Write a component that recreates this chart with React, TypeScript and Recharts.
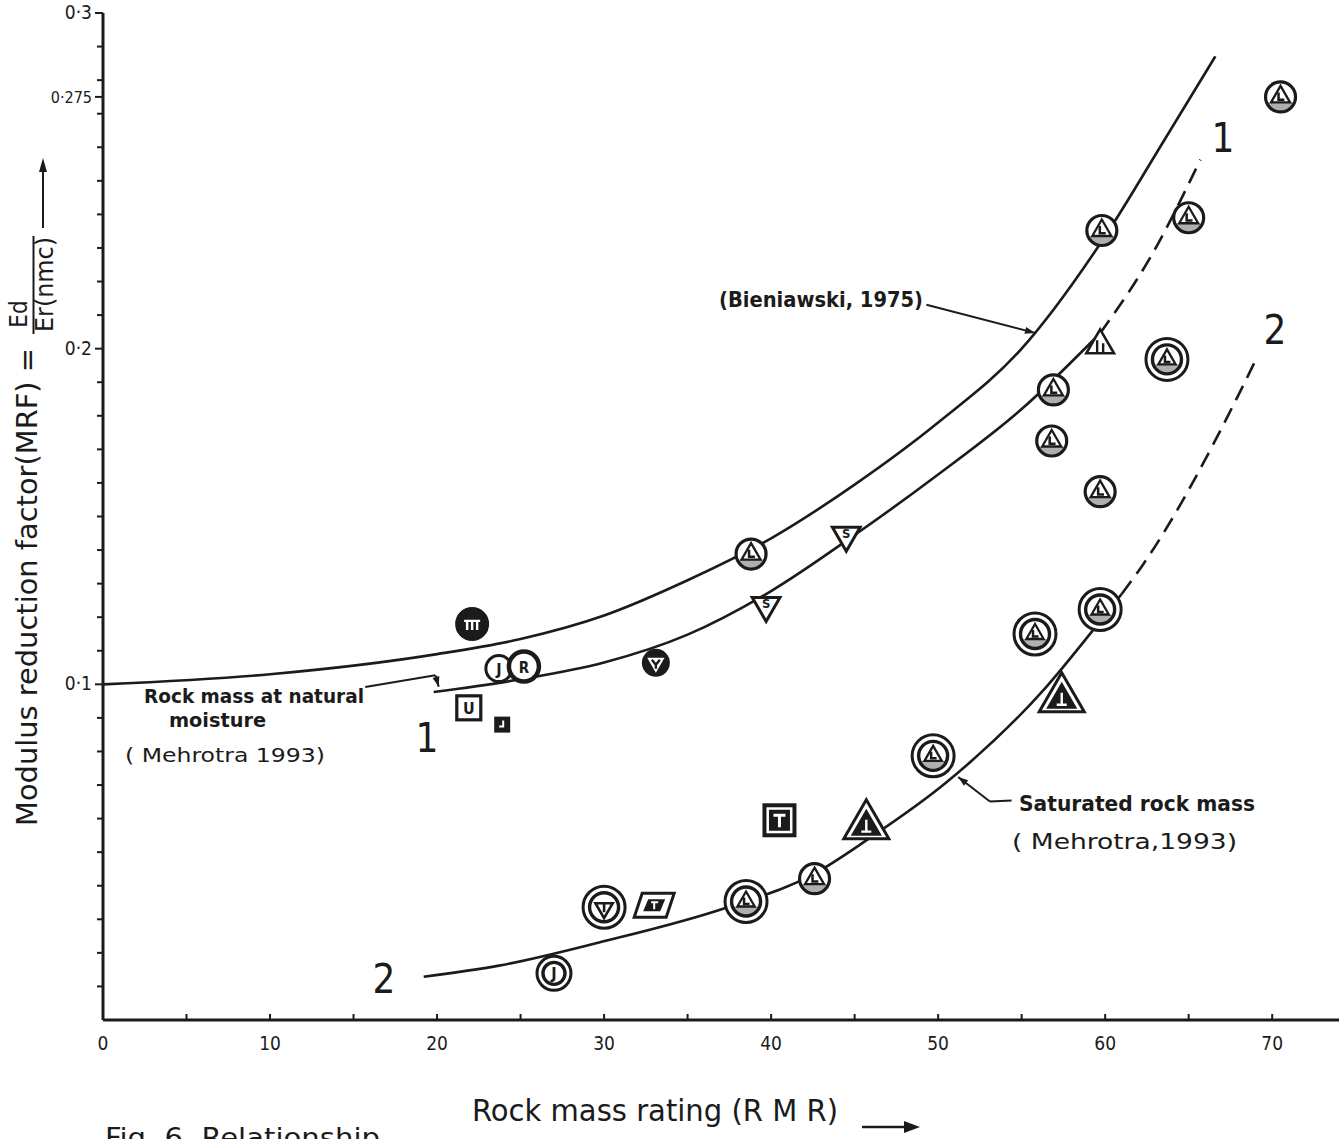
// App.tsx - modulus reduction factor (MRF) against rock mass rating (RMR)
import { ComposedChart, Line, Scatter, XAxis, YAxis, ReferenceLine } from 'recharts';

const INK = '#1b1b1b';
const FONT = "'DejaVu Sans Condensed', 'DejaVu Sans', sans-serif";

// axis ticks
const xTicks = [0, 5, 10, 15, 20, 25, 30, 35, 40, 45, 50, 55, 60, 65, 70];
const xLabelled = [0, 10, 20, 30, 40, 50, 60, 70];
const yLabelled = [0.1, 0.2, 0.275, 0.3];
const yTickLabels = ['0·1', '0·2', '0·275', '0·3'];
const yMinorTicks = Array.from({ length: 29 }, (_, i) => Number(((i + 1) * 0.01).toFixed(2)));

// Bieniawski (1975) curve
const bieniawskiCurve = [
  { x: 0, y: 0.1 }, { x: 10, y: 0.103 }, { x: 20, y: 0.109 }, { x: 25, y: 0.1135 },
  { x: 30, y: 0.1205 }, { x: 35, y: 0.131 }, { x: 40, y: 0.1435 }, { x: 45, y: 0.1595 },
  { x: 50, y: 0.178 }, { x: 55, y: 0.2 }, { x: 60, y: 0.2335 }, { x: 63.5, y: 0.2618 },
  { x: 66.6, y: 0.2871 },
];

// curve 1: rock mass at natural moisture (Mehrotra 1993)
const naturalCurve = [
  { x: 19.8, y: 0.0977 }, { x: 25, y: 0.1015 }, { x: 30, y: 0.1065 }, { x: 35, y: 0.1148 },
  { x: 40, y: 0.1278 }, { x: 45, y: 0.1445 }, { x: 50, y: 0.1625 }, { x: 55, y: 0.182 },
  { x: 59.7, y: 0.2046 },
];
const naturalCurveExt = [{ x: 59.7, y: 0.2046 }, { x: 62.8, y: 0.228 }, { x: 65.7, y: 0.2563 }];

// curve 2: saturated rock mass (Mehrotra, 1993)
const saturatedCurve = [
  { x: 19.2, y: 0.0129 }, { x: 23.7, y: 0.0162 }, { x: 29.7, y: 0.0231 }, { x: 37.4, y: 0.0336 },
  { x: 42.6, y: 0.0436 }, { x: 45.7, y: 0.0535 }, { x: 50.5, y: 0.0708 }, { x: 56.4, y: 0.0988 },
  { x: 59.3, y: 0.1163 }, { x: 61.0, y: 0.127 },
];
const saturatedCurveExt = [{ x: 61.0, y: 0.127 }, { x: 62.2, y: 0.1352 }, { x: 68.0, y: 0.1864 }, { x: 69.0, y: 0.1965 }];

// observed points, natural moisture
const naturalRingTri = [
  { x: 38.8, y: 0.1388 }, { x: 56.9, y: 0.1877 }, { x: 56.8, y: 0.1725 }, { x: 59.8, y: 0.2352 },
  { x: 65.0, y: 0.239 }, { x: 59.7, y: 0.1574 }, { x: 70.5, y: 0.275 },
];
const naturalDiscs = [
  { x: 22.1, y: 0.118, code: 'm' }, { x: 23.7, y: 0.1047, code: 'J' },
  { x: 25.2, y: 0.1053, code: 'K' }, { x: 33.1, y: 0.1064, code: 'V' },
];
const naturalSquares = [{ x: 21.9, y: 0.093, code: 'U' }, { x: 23.9, y: 0.088, code: 'j' }];
const naturalInvTri = [{ x: 39.7, y: 0.1235 }, { x: 44.5, y: 0.1444 }];
const naturalTri = [{ x: 59.7, y: 0.201 }];
const naturalDoubleRing = [{ x: 63.7, y: 0.1968, code: 'A' }];

// observed points, saturated
const saturatedDoubleRing = [
  { x: 55.8, y: 0.115, code: 'A' }, { x: 59.7, y: 0.1223, code: 'A' }, { x: 49.7, y: 0.0787, code: 'A' },
  { x: 38.5, y: 0.0353, code: 'A' }, { x: 30.0, y: 0.0336, code: 'V' }, { x: 27.0, y: 0.0139, code: 'J' },
];
const saturatedTri = [{ x: 57.4, y: 0.0957 }, { x: 45.7, y: 0.0579 }];
const saturatedSquares = [{ x: 40.5, y: 0.0595, code: 'T' }];
const saturatedRingTri = [{ x: 42.6, y: 0.0421 }];
const saturatedRhomb = [{ x: 33.0, y: 0.0342 }];

// leader lines for the curve notes
const bieniawskiLeader = [{ x: 49.3, y: 0.2131 }, { x: 55.8, y: 0.2047 }];
const naturalLeader = [{ x: 15.7, y: 0.0992 }, { x: 19.9, y: 0.1027 }, { x: 20.1, y: 0.0993 }];
const saturatedLeader = [{ x: 54.4, y: 0.0654 }, { x: 53.1, y: 0.0651 }, { x: 51.2, y: 0.0724 }];

const tri = (cx: number, cy: number, r: number) =>
  `M${cx},${cy - r} L${cx + 0.866 * r},${cy + 0.5 * r} L${cx - 0.866 * r},${cy + 0.5 * r} Z`;
const invTri = (cx: number, cy: number, r: number) =>
  `M${cx},${cy + r} L${cx + 0.866 * r},${cy - 0.5 * r} L${cx - 0.866 * r},${cy - 0.5 * r} Z`;

// triangle with an L stroke and a shaded lower segment, drawn inside a ring
const TriInside = ({ cx, cy, r }: { cx: number; cy: number; r: number }) => {
  const base = cy + 0.5 * r;
  const half = Math.sqrt(Math.max((r + 3) * (r + 3) - 0.25 * r * r, 0));
  return (
    <g>
      <path d={`M${cx - half},${base} A${r + 3},${r + 3} 0 0 0 ${cx + half},${base} Z`} fill={INK} opacity={0.35} />
      <path d={tri(cx, cy, r)} fill="none" stroke={INK} strokeWidth={2.3} />
      <path d={`M${cx - 2},${cy - r * 0.4} V${cy + r * 0.25} H${cx + r * 0.35}`} fill="none" stroke={INK} strokeWidth={2.5} />
    </g>
  );
};

const ringTriangle = (p: any) => {
  const { cx, cy } = p;
  return (
    <g>
      <circle cx={cx} cy={cy} r={15} fill="#fff" stroke={INK} strokeWidth={3.2} />
      <TriInside cx={cx} cy={cy} r={11} />
    </g>
  );
};

const doubleRing = (p: any) => {
  const { cx, cy, payload } = p;
  const small = payload.code === 'J';
  const R = small ? 17 : 21;
  const r = small ? 11 : 14.5;
  return (
    <g>
      <circle cx={cx} cy={cy} r={R} fill="#fff" stroke={INK} strokeWidth={3} />
      <circle cx={cx} cy={cy} r={r} fill="#fff" stroke={INK} strokeWidth={3.4} />
      {payload.code === 'A' && <TriInside cx={cx} cy={cy} r={10} />}
      {payload.code === 'V' && (
        <g>
          <path d={invTri(cx, cy + 1, 10)} fill="none" stroke={INK} strokeWidth={2.6} />
          <path d={`M${cx},${cy - 4} V${cy + 5}`} stroke={INK} strokeWidth={2.6} />
        </g>
      )}
      {payload.code === 'J' && (
        <text x={cx} y={cy + 6} textAnchor="middle" fontSize={16} fontWeight="bold" fontFamily={FONT} fill={INK}>J</text>
      )}
    </g>
  );
};

const disc = (p: any) => {
  const { cx, cy, payload } = p;
  const code = payload.code;
  if (code === 'm') {
    return (
      <g>
        <circle cx={cx} cy={cy} r={16} fill={INK} stroke={INK} strokeWidth={2} />
        <path d={`M${cx - 8},${cy - 3} H${cx + 8} M${cx - 5},${cy - 3} V${cy + 6} M${cx},${cy - 3} V${cy + 6} M${cx + 5},${cy - 3} V${cy + 6}`} stroke="#fff" strokeWidth={2.4} fill="none" />
      </g>
    );
  }
  if (code === 'V') {
    return (
      <g>
        <circle cx={cx} cy={cy} r={14} fill={INK} />
        <path d={invTri(cx, cy, 10)} fill="#fff" />
        <path d={`M${cx - 4},${cy - 3} L${cx},${cy + 2} L${cx + 4},${cy - 3} M${cx},${cy + 2} V${cy + 6}`} stroke={INK} strokeWidth={2.4} fill="none" />
      </g>
    );
  }
  return (
    <g>
      <circle cx={cx} cy={cy} r={code === 'K' ? 15 : 13} fill="#fff" stroke={INK} strokeWidth={code === 'K' ? 4.5 : 3} />
      <text x={cx} y={cy + 6} textAnchor="middle" fontSize={code === 'K' ? 15 : 16} fontWeight="bold" fontFamily={FONT} fill={INK}>
        {code === 'K' ? 'R' : code}
      </text>
    </g>
  );
};

const square = (p: any) => {
  const { cx, cy, payload } = p;
  if (payload.code === 'T') {
    return (
      <g>
        <rect x={cx - 17} y={cy - 17} width={34} height={34} fill={INK} />
        <rect x={cx - 13} y={cy - 13} width={26} height={26} fill="#fff" />
        <rect x={cx - 10.5} y={cy - 10.5} width={21} height={21} fill={INK} />
        <path d={`M${cx - 6},${cy - 5} H${cx + 6} M${cx},${cy - 5} V${cy + 7}`} stroke="#fff" strokeWidth={3} />
      </g>
    );
  }
  if (payload.code === 'j') {
    return (
      <g>
        <rect x={cx - 8} y={cy - 8} width={16} height={16} fill={INK} />
        <path d={`M${cx + 1},${cy - 4} V${cy + 2} H${cx - 3}`} stroke="#fff" strokeWidth={2} fill="none" />
      </g>
    );
  }
  return (
    <g>
      <rect x={cx - 12} y={cy - 12} width={24} height={24} fill="#fff" stroke={INK} strokeWidth={3.2} />
      <text x={cx} y={cy + 6} textAnchor="middle" fontSize={16} fontWeight="bold" fontFamily={FONT} fill={INK}>U</text>
    </g>
  );
};

const smallTriangle = (p: any) => {
  const { cx, cy } = p;
  return (
    <g>
      <path d={tri(cx, cy, 16)} fill="#fff" stroke={INK} strokeWidth={2.6} />
      <path d={`M${cx - 3},${cy - 5} V${cy + 8} M${cx + 3},${cy - 2} V${cy + 8}`} stroke={INK} strokeWidth={2.4} />
    </g>
  );
};

const bigTriangle = (p: any) => {
  const { cx, cy } = p;
  return (
    <g>
      <path d={tri(cx, cy, 26)} fill="#fff" stroke={INK} strokeWidth={3} />
      <path d={tri(cx, cy + 1, 18)} fill={INK} />
      <path d={`M${cx},${cy - 6} V${cy + 6} M${cx - 5},${cy + 6} H${cx + 5}`} stroke="#fff" strokeWidth={2.4} />
    </g>
  );
};

const invTriangle = (p: any) => {
  const { cx, cy } = p;
  return (
    <g>
      <path d={invTri(cx, cy, 16)} fill="#fff" stroke={INK} strokeWidth={3} />
      <text x={cx} y={cy + 3} textAnchor="middle" fontSize={13} fontWeight="bold" fontFamily={FONT} fill={INK}>S</text>
    </g>
  );
};

const rhomb = (p: any) => {
  const { cx, cy } = p;
  return (
    <g>
      <path d={`M${cx - 12},${cy - 12} H${cx + 20} L${cx + 12},${cy + 12} H${cx - 20} Z`} fill="#fff" stroke={INK} strokeWidth={3} />
      <path d={`M${cx - 6},${cy - 6} H${cx + 11} L${cx + 6},${cy + 6} H${cx - 11} Z`} fill={INK} />
      <path d={`M${cx - 3},${cy - 3} H${cx + 4} M${cx},${cy - 3} V${cy + 4}`} stroke="#fff" strokeWidth={2} />
    </g>
  );
};

const arrowLine = (p: any) => {
  const { x1, y1, x2, y2 } = p;
  const a = Math.atan2(y2 - y1, x2 - x1);
  const bx = x2 - 10 * Math.cos(a);
  const by = y2 - 10 * Math.sin(a);
  const nx = -Math.sin(a) * 3.5;
  const ny = Math.cos(a) * 3.5;
  return (
    <g>
      <line x1={x1} y1={y1} x2={x2} y2={y2} stroke={INK} strokeWidth={2} />
      <path d={`M${x2},${y2} L${bx + nx},${by + ny} L${bx - nx},${by - ny} Z`} fill={INK} />
    </g>
  );
};

const XTick = (p: any) => {
  const { x, y, payload } = p;
  const v = payload.value;
  return (
    <g>
      {v > 0 && <line x1={x} y1={y} x2={x} y2={y - 6} stroke={INK} strokeWidth={2} />}
      {xLabelled.includes(v) && (
        <text x={x} y={y + 30} textAnchor="middle" fontSize={19} fontFamily={FONT} fill={INK}>{v}</text>
      )}
    </g>
  );
};

const YTick = (p: any) => {
  const { x, y, payload } = p;
  const i = yLabelled.findIndex((t) => Math.abs(t - payload.value) < 1e-6);
  return (
    <g>
      <line x1={x - (i >= 0 ? 8 : 6)} y1={y} x2={x} y2={y} stroke={INK} strokeWidth={2} />
      {i >= 0 && (
        <text x={x - 11} y={y + 6} textAnchor="end" fontSize={i === 2 ? 16 : 19} fontFamily={FONT} fill={INK}>
          {yTickLabels[i]}
        </text>
      )}
    </g>
  );
};

const Note = ({ x, y, w, size, bold, children }: any) => (
  <text x={x} y={y} fontSize={size} fontWeight={bold ? 'bold' : 'normal'} fontFamily={FONT} fill={INK}
    textLength={w} lengthAdjust="spacingAndGlyphs">{children}</text>
);

export default function App() {
  const curve = { type: 'monotone' as const, dataKey: 'y', dot: false, stroke: INK, strokeWidth: 2.6, isAnimationActive: false, activeDot: false };
  return (
    <div style={{ position: 'absolute', left: 0, top: 0, width: 1342, height: 1139, background: '#fff', overflow: 'hidden' }}>
      <ComposedChart width={1342} height={1139} margin={{ top: 13, right: 3, bottom: 79, left: 63 }}>
        <XAxis dataKey="x" type="number" domain={[0, 74]} ticks={xTicks} interval={0} height={40}
          tickSize={0} tickMargin={0} tick={XTick} axisLine={{ stroke: INK, strokeWidth: 3 }} />
        <YAxis dataKey="y" type="number" domain={[0, 0.3]} ticks={[...yMinorTicks, 0.275, 0.3]} interval={0} width={40}
          tickSize={0} tickMargin={0} tick={YTick} axisLine={{ stroke: INK, strokeWidth: 3 }} />

        <ReferenceLine segment={bieniawskiLeader} shape={arrowLine} />
        <ReferenceLine segment={[naturalLeader[0], naturalLeader[1]]} stroke={INK} strokeWidth={2} />
        <ReferenceLine segment={[naturalLeader[1], naturalLeader[2]]} shape={arrowLine} />
        <ReferenceLine segment={[saturatedLeader[0], saturatedLeader[1]]} stroke={INK} strokeWidth={2} />
        <ReferenceLine segment={[saturatedLeader[1], saturatedLeader[2]]} shape={arrowLine} />

        <Line data={bieniawskiCurve} {...curve} />
        <Line data={naturalCurve} {...curve} />
        <Line data={naturalCurveExt} {...curve} strokeDasharray="16 9" />
        <Line data={saturatedCurve} {...curve} />
        <Line data={saturatedCurveExt} {...curve} strokeDasharray="16 9" />

        <Scatter data={naturalRingTri} shape={ringTriangle} isAnimationActive={false} />
        <Scatter data={naturalDiscs} shape={disc} isAnimationActive={false} />
        <Scatter data={naturalSquares} shape={square} isAnimationActive={false} />
        <Scatter data={naturalInvTri} shape={invTriangle} isAnimationActive={false} />
        <Scatter data={naturalTri} shape={smallTriangle} isAnimationActive={false} />
        <Scatter data={naturalDoubleRing} shape={doubleRing} isAnimationActive={false} />
        <Scatter data={saturatedDoubleRing} shape={doubleRing} isAnimationActive={false} />
        <Scatter data={saturatedTri} shape={bigTriangle} isAnimationActive={false} />
        <Scatter data={saturatedSquares} shape={square} isAnimationActive={false} />
        <Scatter data={saturatedRingTri} shape={ringTriangle} isAnimationActive={false} />
        <Scatter data={saturatedRhomb} shape={rhomb} isAnimationActive={false} />
      </ComposedChart>

      <svg width={1342} height={1139} style={{ position: 'absolute', left: 0, top: 0, pointerEvents: 'none' }}>
        {/* y axis title with the Ed / Er(nmc) fraction */}
        <text transform="rotate(-90 37 826)" x={37} y={826} fontSize={28} fontFamily={FONT} fill={INK}
          textLength={478} lengthAdjust="spacingAndGlyphs">Modulus reduction factor(MRF) =</text>
        <text transform="rotate(-90 27 314)" x={27} y={314} textAnchor="middle" fontSize={24} fontFamily={FONT} fill={INK}>Ed</text>
        <line x1={33.5} y1={236} x2={33.5} y2={334} stroke={INK} strokeWidth={2} />
        <text transform="rotate(-90 53 237)" x={53} y={237} textAnchor="end" fontSize={24} fontFamily={FONT} fill={INK}
          textLength={95} lengthAdjust="spacingAndGlyphs">Er(nmc)</text>
        <line x1={43} y1={228} x2={43} y2={168} stroke={INK} strokeWidth={2} />
        <path d="M43,158 L39,172 L47,172 Z" fill={INK} />

        {/* x axis title */}
        <Note x={472} y={1121} w={366} size={30}>Rock  mass rating (R M R)</Note>
        <line x1={862} y1={1127} x2={908} y2={1127} stroke={INK} strokeWidth={2.4} />
        <path d="M920,1127 L904,1121 L904,1133 Z" fill={INK} />

        {/* curve notes */}
        <Note x={719} y={307} w={204} size={22} bold>(Bieniawski, 1975)</Note>
        <Note x={144} y={703} w={220} size={20} bold>Rock mass at natural</Note>
        <Note x={169} y={727} w={97} size={20} bold>moisture</Note>
        <Note x={125} y={762} w={200} size={19}>( Mehrotra  1993)</Note>
        <Note x={1019} y={811} w={236} size={21} bold>Saturated rock mass</Note>
        <Note x={1012} y={849} w={225} size={22}>( Mehrotra,1993)</Note>

        <text x={427} y={752} textAnchor="middle" fontSize={40} fontFamily={FONT} fill={INK}>1</text>
        <text x={1223} y={152} textAnchor="middle" fontSize={40} fontFamily={FONT} fill={INK}>1</text>
        <text x={384} y={993} textAnchor="middle" fontSize={40} fontFamily={FONT} fill={INK}>2</text>
        <text x={1275} y={344} textAnchor="middle" fontSize={40} fontFamily={FONT} fill={INK}>2</text>

        {/* figure caption along the bottom edge */}
        <Note x={105} y={1147} w={275} size={26}>Fig. 6. Relationship</Note>
      </svg>
    </div>
  );
}
